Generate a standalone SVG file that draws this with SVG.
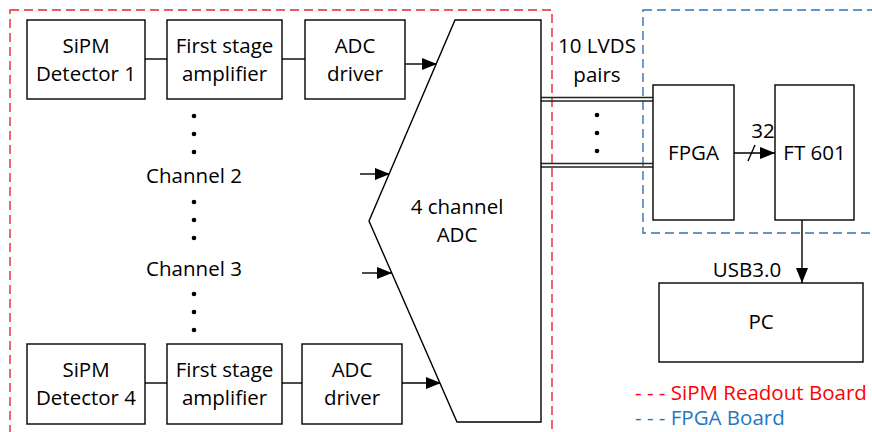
<svg xmlns="http://www.w3.org/2000/svg" width="872" height="432" viewBox="0 0 872 432">
<defs>
<style>
text{font-family:"Open Sans","Noto Sans","Liberation Sans",sans-serif;font-size:20.5px;fill:#000;text-anchor:middle}
.box{fill:#fff;stroke:#000;stroke-width:1.4}
.ln{fill:none;stroke:#000;stroke-width:1.4}
.dbl{fill:none;stroke:#222;stroke-width:1.4}
.dot{fill:#000}
.red{fill:none;stroke:#e8262d;stroke-width:1.4;stroke-dasharray:9,5}
.blue{fill:none;stroke:#2e75b6;stroke-width:1.4;stroke-dasharray:9,5}
.leg{text-anchor:start}
</style>
<marker id="ah" markerUnits="userSpaceOnUse" markerWidth="16" markerHeight="12" refX="15" refY="6" orient="auto">
<path d="M0,0 L15,6 L0,12 Z" fill="#000"/>
</marker>
</defs>
<rect x="0" y="0" width="872" height="432" fill="#fff"/>
<g id="boards">
<rect class="red" x="10" y="10" width="542" height="440"/>
<rect class="blue" x="643" y="10" width="240" height="223"/>
</g>
<g id="connectors">
<line class="ln" x1="145" y1="59" x2="167" y2="59"/>
<line class="ln" x1="282" y1="59" x2="305" y2="59"/>
<line class="ln" x1="405" y1="64" x2="437" y2="64" marker-end="url(#ah)"/>
<line class="ln" x1="360" y1="174" x2="390" y2="174" marker-end="url(#ah)"/>
<line class="ln" x1="362" y1="273" x2="392" y2="273" marker-end="url(#ah)"/>
<line class="ln" x1="145" y1="383" x2="167" y2="383"/>
<line class="ln" x1="282" y1="383" x2="302" y2="383"/>
<line class="ln" x1="402" y1="383" x2="441" y2="383" marker-end="url(#ah)"/>
<line class="dbl" x1="541" y1="97.5" x2="653" y2="97.5"/>
<line class="dbl" x1="541" y1="101" x2="653" y2="101"/>
<line class="dbl" x1="541" y1="163.5" x2="653" y2="163.5"/>
<line class="dbl" x1="541" y1="167" x2="653" y2="167"/>
<line class="ln" x1="734" y1="153" x2="775" y2="153" marker-end="url(#ah)"/>
<line class="ln" x1="748" y1="161" x2="755" y2="145"/>
<line class="ln" x1="802" y1="220" x2="802" y2="283" marker-end="url(#ah)"/>
</g>
<g id="dots">
<circle class="dot" cx="194" cy="116" r="2.3"/>
<circle class="dot" cx="194" cy="134" r="2.3"/>
<circle class="dot" cx="194" cy="152" r="2.3"/>
<circle class="dot" cx="194" cy="202" r="2.3"/>
<circle class="dot" cx="194" cy="220" r="2.3"/>
<circle class="dot" cx="194" cy="238" r="2.3"/>
<circle class="dot" cx="194" cy="294" r="2.3"/>
<circle class="dot" cx="194" cy="312" r="2.3"/>
<circle class="dot" cx="194" cy="330" r="2.3"/>
<circle class="dot" cx="597" cy="115" r="2.3"/>
<circle class="dot" cx="597" cy="133" r="2.3"/>
<circle class="dot" cx="597" cy="151" r="2.3"/>
</g>
<g id="sipm1"><rect class="box" x="27" y="20" width="118" height="79"/><text x="86" y="53">SiPM</text><text x="86" y="81">Detector 1</text></g>
<g id="amp1"><rect class="box" x="167" y="20" width="115" height="79"/><text x="224.5" y="53">First stage</text><text x="224.5" y="81">amplifier</text></g>
<g id="drv1"><rect class="box" x="305" y="20" width="100" height="79"/><text x="355" y="53">ADC</text><text x="355" y="81">driver</text></g>
<g id="sipm4"><rect class="box" x="27" y="344" width="118" height="80"/><text x="86" y="377">SiPM</text><text x="86" y="405">Detector 4</text></g>
<g id="amp4"><rect class="box" x="167" y="344" width="115" height="80"/><text x="224.5" y="377">First stage</text><text x="224.5" y="405">amplifier</text></g>
<g id="drv4"><rect class="box" x="302" y="344" width="100" height="80"/><text x="352" y="377">ADC</text><text x="352" y="405">driver</text></g>
<g id="ch2"><text x="194" y="183">Channel 2</text></g>
<g id="ch3"><text x="194" y="276">Channel 3</text></g>
<g id="adc"><path class="box" d="M455,20 L541,20 L541,422 L457,422 L369,221 Z"/><text x="457" y="214">4 channel</text><text x="457" y="242">ADC</text></g>
<g id="lvds"><text x="597" y="53">10 LVDS</text><text x="597" y="82">pairs</text></g>
<g id="fpga"><rect class="box" x="653" y="85" width="81" height="135"/><text x="693.5" y="160">FPGA</text></g>
<g id="bus32"><text x="763" y="138">32</text></g>
<g id="ft601"><rect class="box" x="775" y="85" width="79" height="135"/><text x="814.5" y="160">FT 601</text></g>
<g id="usb"><text x="747" y="277">USB3.0</text></g>
<g id="pc"><rect class="box" x="659" y="283" width="204" height="79"/><text x="761" y="329">PC</text></g>
<g id="legend">
<text class="leg" x="635" y="400" style="fill:#ff0000">- - - SiPM Readout Board</text>
<text class="leg" x="635" y="425" style="fill:#1f78c1">- - - FPGA Board</text>
</g>
</svg>
